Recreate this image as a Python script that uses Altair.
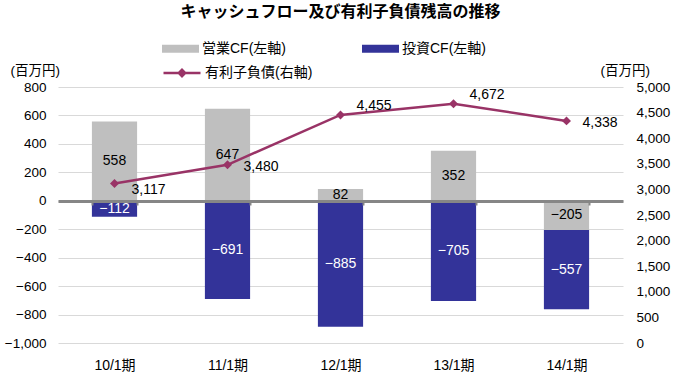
import altair as alt
import pandas as pd

periods = ["10/1期", "11/1期", "12/1期", "13/1期", "14/1期"]
op_cf = [558, 647, 82, 352, -205]
inv_cf = [-112, -691, -885, -705, -557]
debt = [3117, 3480, 4455, 4672, 4338]
series_names = ["営業CF(左軸)", "投資CF(左軸)", "有利子負債(右軸)"]
colors = ["#BFBFBF", "#333399", "#993366"]
left_ticks = list(range(-1000, 801, 200))
right_ticks = list(range(0, 5001, 500))

bars_df = pd.DataFrame({
    "period": periods * 2,
    "series": [series_names[0]] * 5 + [series_names[1]] * 5,
    "order": [0] * 5 + [1] * 5,
    "value": op_cf + inv_cf,
})
line_df = pd.DataFrame({
    "period": periods,
    "debt": debt,
    "idx": list(range(5)),
    "series": [series_names[2]] * 5,
})

FONT = "Liberation Sans, Noto Sans CJK JP"

x_axis = alt.Axis(
    title=None, orient="bottom", offset=-142, domainColor="#868686", domainWidth=3,
    tickColor="#868686", tickWidth=2, tickSize=4, tickBand="extent",
    labelPadding=153, labelAngle=0, labelFontSize=14, labelColor="#000000",
    grid=False, zindex=1,
)
x_scale = alt.Scale(paddingInner=0.6, paddingOuter=0.3)
x_enc = alt.X("period:N", sort=periods, scale=x_scale, axis=x_axis)

base_bars = alt.Chart(bars_df).transform_stack(
    stack="value", groupby=["period"], as_=["y0", "y1"], sort=[alt.SortField("order")]
).transform_calculate(mid="(datum.y0 + datum.y1) / 2")

left_axis = alt.Axis(
    values=left_ticks, format=",d", title="(百万円)", titleAngle=0, titleX=-48, titleY=-17,
    titleAlign="left", titleBaseline="middle", titleFontWeight="normal", titleFontSize=13.5,
    grid=True, gridColor="#D9D9D9", domain=False, ticks=False, labelPadding=12,
    labelFontSize=13.5, labelColor="#000000",
)
left_scale = alt.Scale(domain=[-1000, 800], nice=False, zero=False)

bars = base_bars.mark_bar().encode(
    x=x_enc,
    y=alt.Y("y0:Q", scale=left_scale, axis=left_axis),
    y2="y1:Q",
    fill=alt.Fill(
        "series:N",
        scale=alt.Scale(domain=series_names[:2], range=colors[:2]),
        legend=alt.Legend(
            title=None, orient="none", legendX=104, legendY=-57, direction="horizontal",
            symbolType="M-1,-0.22H1V0.22H-1Z", symbolSize=1369, symbolStrokeWidth=0,
            labelFontSize=14, labelColor="#000000", columnPadding=76, labelOffset=3,
        ),
    ),
)

bar_text = base_bars.mark_text(fontSize=14).encode(
    x=x_enc,
    y=alt.Y("mid:Q", scale=left_scale, axis=left_axis),
    text=alt.Text("value:Q", format=",d"),
    color=alt.condition(alt.datum.order == 0, alt.value("#000000"), alt.value("#FFFFFF")),
)

left_layer = alt.layer(bars, bar_text)

right_axis = alt.Axis(
    orient="right", values=right_ticks, format=",d", title="(百万円)", titleAngle=0,
    titleX=-23, titleY=-17, titleAlign="left", titleBaseline="middle",
    titleFontWeight="normal", titleFontSize=13.5, grid=False, domain=False, ticks=False,
    labelPadding=13, labelFontSize=13.5, labelColor="#000000",
)
right_scale = alt.Scale(domain=[0, 5000], nice=False, zero=False)
y_right = alt.Y("debt:Q", scale=right_scale, axis=right_axis)

line_base = alt.Chart(line_df)
line = line_base.mark_line(strokeWidth=2.5).encode(
    x=x_enc,
    y=y_right,
    stroke=alt.Stroke(
        "series:N",
        scale=alt.Scale(domain=[series_names[2]], range=[colors[2]]),
        legend=alt.Legend(
            title=None, orient="none", legendX=104, legendY=-34,
            symbolType="M-1,0H1M-0.17,0L0,-0.17L0.17,0L0,0.17Z", symbolSize=1369,
            symbolStrokeWidth=2.5, symbolFillColor=colors[2],
            labelFontSize=14, labelColor="#000000", labelOffset=3,
        ),
    ),
)
points = line_base.mark_point(shape="diamond", filled=True, size=80, color=colors[2], opacity=1).encode(
    x=x_enc, y=y_right
)
lab_below = line_base.transform_filter("datum.idx == 0").mark_text(
    fontSize=14, align="left", dx=17, dy=7
).encode(x=x_enc, y=y_right, text=alt.Text("debt:Q", format=",d"))
lab_right = line_base.transform_filter("datum.idx == 1 || datum.idx == 4").mark_text(
    fontSize=14, align="left", dx=16, dy=2
).encode(x=x_enc, y=y_right, text=alt.Text("debt:Q", format=",d"))
lab_above = line_base.transform_filter("datum.idx == 2 || datum.idx == 3").mark_text(
    fontSize=14, align="left", dx=16, dy=-9
).encode(x=x_enc, y=y_right, text=alt.Text("debt:Q", format=",d"))

right_layer = alt.layer(line, points, lab_below, lab_right, lab_above)

chart = alt.layer(left_layer, right_layer).resolve_scale(
    y="independent"
).properties(
    width=565,
    height=256,
    title=alt.TitleParams(
        "キャッシュフロー及び有利子負債残高の推移", fontSize=16, fontWeight="bold",
        anchor="middle", offset=10, color="#000000",
    ),
    autosize=alt.AutoSizeParams(type="none"),
    padding={"left": 58, "top": 87, "right": 52, "bottom": 33},
).configure(font=FONT).configure_view(stroke=None)

chart.save("out.html", embed_options={"renderer": "svg", "actions": False})
